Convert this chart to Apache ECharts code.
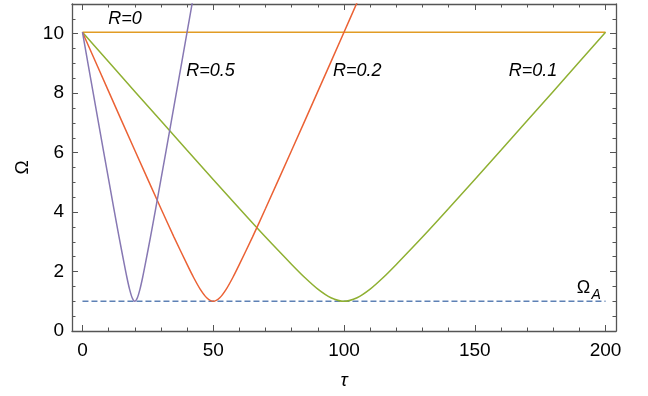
<!DOCTYPE html>
<html>
<head>
<meta charset="utf-8">
<script src="https://cdn.jsdelivr.net/npm/echarts@6/dist/echarts.min.js"></script>
<style>
  html, body { margin: 0; padding: 0; background: #fff; }
  #chart { width: 648px; height: 396px; }
</style>
</head>
<body>
<div id="chart"></div>
<script>
// curves: [tau, Omega]
const curveR0 = [[0, 10.05], [200, 10.05]]
const curveR01 = [
  [0, 10.05], [20, 8.06], [40, 6.08], [60, 4.12], [70, 3.16], [80, 2.24], [85, 1.80],
  [90, 1.41], [95, 1.12], [100, 1.00], [105, 1.12], [110, 1.41], [115, 1.80], [120, 2.24],
  [130, 3.16], [140, 4.12], [160, 6.08], [180, 8.06], [200, 10.05]
]
const curveR02 = [
  [0, 10.05], [10, 8.06], [20, 6.08], [30, 4.12], [35, 3.16], [40, 2.24], [42.5, 1.80],
  [45, 1.41], [47.5, 1.12], [50, 1.00], [52.5, 1.12], [55, 1.41], [57.5, 1.80], [60, 2.24],
  [65, 3.16], [70, 4.12], [80, 6.08], [90, 8.06], [100, 10.05], [105, 11.05]
]
const curveR05 = [
  [0, 10.05], [4, 8.06], [8, 6.08], [12, 4.12], [14, 3.16], [16, 2.24], [17, 1.80],
  [18, 1.41], [19, 1.12], [20, 1.00], [21, 1.12], [22, 1.41], [23, 1.80], [24, 2.24],
  [26, 3.16], [28, 4.12], [32, 6.08], [36, 8.06], [40, 10.05], [42, 11.05]
]
const omegaA = [[0, 1], [200, 1]]

const xMajor = [0, 50, 100, 150, 200]
const xMinor = [10, 20, 30, 40, 60, 70, 80, 90, 110, 120, 130, 140, 160, 170, 180, 190]
const yMajor = [0, 2, 4, 6, 8, 10]
const yMinor = [0.5, 1, 1.5, 2.5, 3, 3.5, 4.5, 5, 5.5, 6.5, 7, 7.5, 8.5, 9, 9.5, 10.5]

const chart = echarts.init(document.getElementById('chart'))
const font = 'Liberation Sans'
const frame = '#555'

function xAx(pos, ticks, len, labels, line) {
  return {
    type: 'value', position: pos, min: -4, max: 204,
    axisLine: { show: line, onZero: false, lineStyle: { color: frame, width: 1.3 } },
    axisTick: { show: true, inside: true, length: len, customValues: ticks, lineStyle: { color: frame } },
    axisLabel: labels ? { customValues: ticks, color: '#000', fontSize: 19, fontFamily: font, margin: 10 } : { show: false },
    splitLine: { show: false }
  }
}
function yAx(pos, ticks, len, labels, line) {
  return {
    type: 'value', position: pos, min: 0, max: 11,
    axisLine: { show: line, onZero: false, lineStyle: { color: frame, width: 1.3 } },
    axisTick: { show: true, inside: true, length: len, customValues: ticks, lineStyle: { color: frame } },
    axisLabel: labels ? { customValues: ticks, color: '#000', fontSize: 19, fontFamily: font, margin: 8 } : { show: false },
    splitLine: { show: false }
  }
}

const xAxes = [
  xAx('bottom', xMajor, 6, true, true),
  xAx('bottom', xMinor, 3.5, false, false),
  xAx('top', xMajor, 6, false, true),
  xAx('top', xMinor, 3.5, false, false)
]
xAxes[0].name = 'τ'
xAxes[0].nameLocation = 'middle'
xAxes[0].nameGap = 40
xAxes[0].nameTextStyle = { fontSize: 19, fontStyle: 'italic', fontFamily: font, color: '#000' }

const yAxes = [
  yAx('left', yMajor, 6, true, true),
  yAx('left', yMinor, 3.5, false, false),
  yAx('right', yMajor, 6, false, true),
  yAx('right', yMinor, 3.5, false, false)
]
yAxes[0].name = 'Ω'
yAxes[0].nameLocation = 'middle'
yAxes[0].nameGap = 37
yAxes[0].nameTextStyle = { fontSize: 19, fontFamily: font, color: '#000' }

function line(data, color, extra) {
  return Object.assign({
    type: 'line', data: data, showSymbol: false, smooth: 0.3, clip: true,
    lineStyle: { color: color, width: 1.5 }, silent: true, animation: false
  }, extra || {})
}

const tagStyle = { fontSize: 18, fontStyle: 'italic', fontFamily: font, color: '#000', opacity: 1 }

chart.setOption({
  animation: false,
  grid: { left: 72, right: 32, top: 4, bottom: 65 },
  xAxis: xAxes,
  yAxis: yAxes,
  series: [
    line(omegaA, '#5E81B5', { smooth: false, lineStyle: { color: '#5E81B5', width: 1.5, type: [6, 3] } }),
    line(curveR0, '#E19C24', { smooth: false }),
    line(curveR01, '#8FB032'),
    line(curveR02, '#EB6235'),
    line(curveR05, '#8778B3'),
    {
      type: 'scatter', symbolSize: 0, silent: true, animation: false,
      itemStyle: { opacity: 1 },
      label: Object.assign({ show: true, position: 'right', distance: 0, formatter: '{b}' }, tagStyle),
      data: [
        { name: 'R=0', value: [9.9, 10.5] },
        { name: 'R=0.5', value: [39.7, 8.75] },
        { name: 'R=0.2', value: [95.8, 8.75] },
        { name: 'R=0.1', value: [163, 8.75] },
        { name: 'Ω', value: [189, 1.45], label: { fontStyle: 'normal' } },
        { name: 'A', value: [194.6, 1.2], label: { fontSize: 14 } }
      ]
    }
  ]
})
</script>
</body>
</html>
